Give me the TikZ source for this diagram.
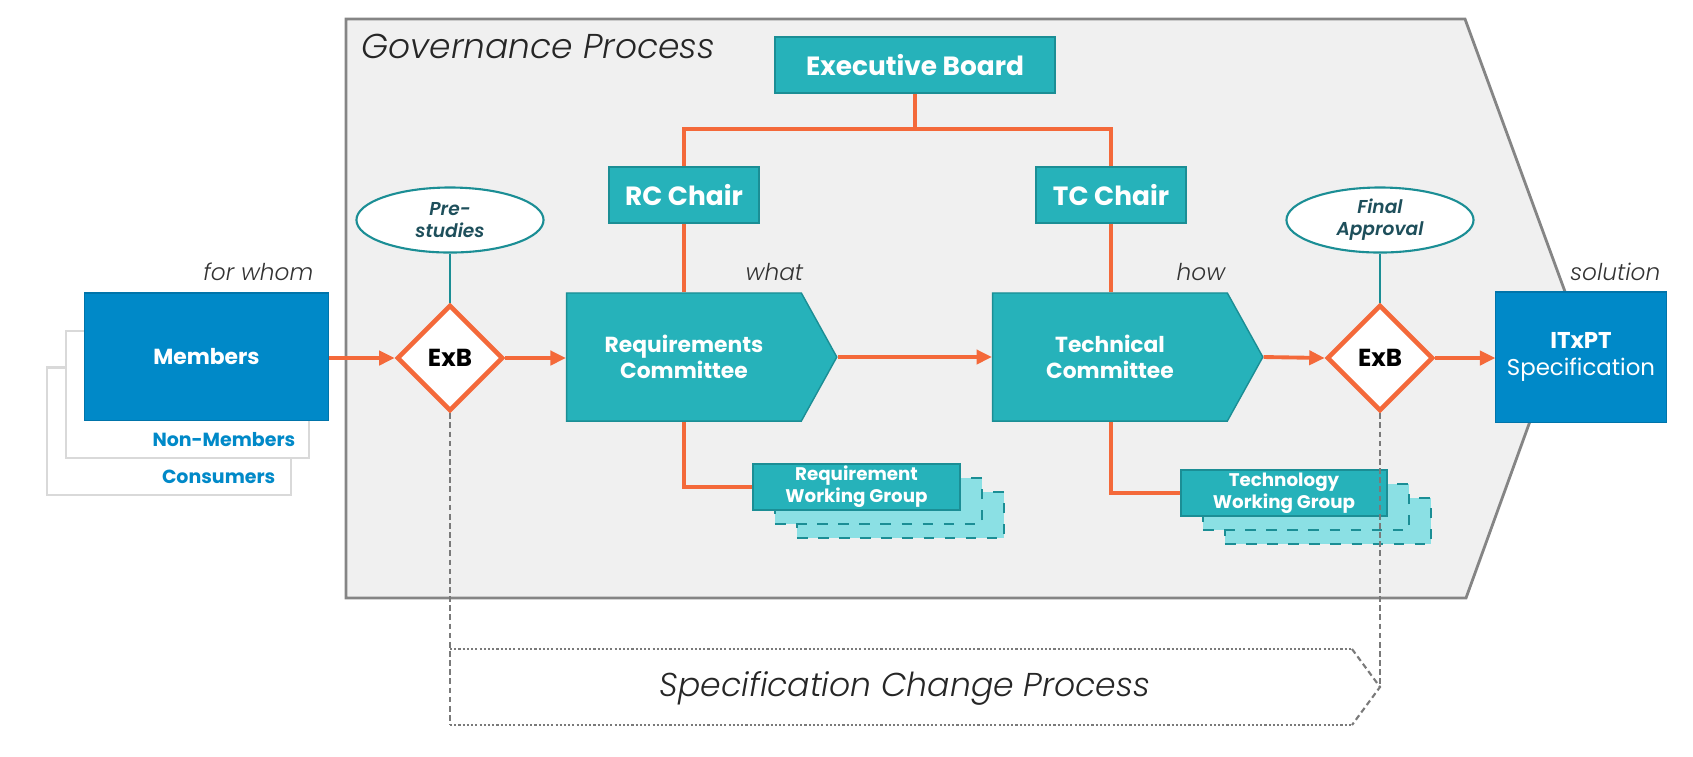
\documentclass[tikz,border=0pt]{standalone}
\usepackage{fontspec}
\setmainfont{Poppins}[ItalicFont={Poppins Light Italic}, BoldItalicFont={Poppins SemiBold Italic}]
\usetikzlibrary{arrows.meta,shapes.geometric,shapes.symbols,shadows}

\definecolor{govfill}{HTML}{F0F0F0}
\definecolor{govline}{HTML}{858585}
\definecolor{teal1}{HTML}{26B2BA}
\definecolor{teal2}{HTML}{1B8E95}
\definecolor{tealtxt}{HTML}{1E4F5B}
\definecolor{wgshade}{HTML}{8BE0E4}
\definecolor{itblue}{HTML}{0089C8}
\definecolor{itorange}{HTML}{F4693A}
\definecolor{dashgray}{HTML}{7A7A7A}

\newcommand{\fs}[2]{\fontsize{#1}{#2}\selectfont}

\tikzset{
  tealbox/.style={rectangle, fill=teal1, draw=teal2, line width=0.4pt, text=white,
    font=\bfseries\fs{7.5}{9}, inner sep=0pt},
  committee/.style={signal, signal to=east, signal pointer angle=122, fill=teal1, draw=teal2,
    line width=0.4pt, text=white, font=\bfseries\fs{6.2}{7.4}, align=center,
    minimum width=2.70cm, minimum height=1.28cm, inner sep=0pt},
  bluebox/.style={rectangle, fill=itblue, draw=itblue!85!black, line width=0.3pt, text=white,
    align=center, inner sep=0pt},
  ghostbox/.style={rectangle, fill=white, draw=black!15, line width=0.6pt,
    minimum width=2.43cm, minimum height=1.27cm},
  exb/.style={diamond, fill=white, draw=itorange, line width=1.3pt, minimum width=1.06cm,
    minimum height=1.06cm, inner sep=0pt, font=\bfseries\fs{7}{8}},
  milestone/.style={ellipse, fill=white, draw=teal2, line width=0.6pt, minimum width=1.87cm,
    minimum height=0.65cm, inner sep=0pt, text=tealtxt, font=\bfseries\itshape\fs{5.3}{6.3},
    align=center},
  wgroup/.style={rectangle, fill=teal1, draw=teal2, line width=0.4pt, text=white,
    font=\bfseries\fs{5.2}{6.2}, align=center, minimum height=0.46cm, inner sep=0pt,
    copy shadow={shadow xshift=0.44cm, shadow yshift=-0.28cm, fill=wgshade, draw=teal2, dashed, line width=0.5pt},
    copy shadow={shadow xshift=0.22cm, shadow yshift=-0.14cm, fill=wgshade, draw=teal2, dashed, line width=0.5pt}},
  flow/.style={itorange, line width=1.1pt},
  feed/.style={flow, -{Triangle[length=4.4pt,width=4pt]}},
  caption/.style={font=\itshape\fs{6.6}{8}, text=black!80, inner sep=0pt},
  spec/.style={dashgray, line width=0.6pt, dash pattern=on 1.6pt off 1pt},
}

\begin{document}
\begin{tikzpicture}[x=0.01cm, y=-0.01cm]
\useasboundingbox (0,0) rectangle (1693,756);

% governance chevron
\draw[govline, fill=govfill, line width=0.8pt]
  (346,19) -- (1465,19) -- (1571,308) -- (1466,598) -- (346,598) -- cycle;
\node[anchor=base west, inner sep=0pt, font=\itshape\fs{9.8}{12}, text=black!85] (govtitle) at (361,58) {Governance Process};

% stakeholders
\node[ghostbox] (consumers) at (169,431) {};
\node[ghostbox] (nonmembers) at (187.5,394.5) {};
\node[anchor=east, inner sep=0pt, text=itblue, font=\bfseries\fs{5.4}{6}] (conslbl) at (276,477) {Consumers};
\node[anchor=east, inner sep=0pt, text=itblue, font=\bfseries\fs{5.4}{6}] (nonlbl) at (296,440) {Non-Members};
\node[bluebox, minimum width=2.43cm, minimum height=1.27cm, font=\bfseries\fs{6.2}{7.4}] (members) at (206.5,356.5) {Members};
\node[caption, anchor=base east] (forwhom) at (314,280) {for whom};

% board and chairs
\node[tealbox, minimum width=2.80cm, minimum height=0.56cm] (eb) at (915,65) {Executive Board};
\node[tealbox, minimum width=1.50cm, minimum height=0.56cm] (rcchair) at (684,195) {RC Chair};
\node[tealbox, minimum width=1.50cm, minimum height=0.56cm] (tcchair) at (1111,195) {TC Chair};
\coordinate (fork) at (915,129);

% committees
\node[committee] (rc) at (684,357) {Requirements\\Committee};
\node[committee] (tc) at (1110,357) {Technical\\Committee};
\node[caption, anchor=base west] (what) at (745,280) {what};
\node[caption, anchor=base west] (how) at (1176,280) {how};

% working groups
\node[wgroup, minimum width=2.07cm] (rwg) at (856.5,487) {Requirement\\Working Group};
\node[wgroup, minimum width=2.06cm] (twg) at (1284,493) {Technology\\Working Group};

% decisions
\node[exb] (exb1) at (450,358) {ExB};
\node[exb] (exb2) at (1380,358) {ExB};
\node[milestone] (prestudy) at (450,220) {Pre-\\studies};
\node[milestone] (approval) at (1380,220) {Final\\Approval};

% result
\node[bluebox, minimum width=1.70cm, minimum height=1.30cm, font=\fs{6.5}{7.8}] (itxpt) at (1581,357) {\textbf{ITxPT}\\Specification};
\node[caption, anchor=base east] (solution) at (1661,280) {solution};

% connectors
\draw[flow] (eb) -- (fork);
\draw[flow] (rcchair) |- (fork) -| (tcchair);
\draw[flow] (rcchair.south) -- (rcchair.south |- rc.north);
\draw[flow] (tcchair.south) -- (tcchair.south |- tc.north);
\draw[flow] (rcchair.south |- rc.south) |- (rwg.west);
\draw[flow] (tcchair.south |- tc.south) |- (twg.west);
\draw[feed] (members.east |- exb1) -- (exb1.west);
\draw[feed] (exb1) -- (exb1 -| rc.west);
\draw[feed] (rc.east) -- (rc.east -| tc.west);
\draw[feed] (tc.east) -- (exb2.west);
\draw[feed] (exb2) -- (exb2 -| itxpt.west);
\draw[teal2, line width=0.6pt] (prestudy) -- (exb1);
\draw[teal2, line width=0.6pt] (approval) -- (exb2);

% specification change process
\node[font=\itshape\fs{9.4}{11}, text=black!85] (scp) at (905,688) {Specification Change Process};
\coordinate (scpsw) at (450,725);
\coordinate (scpnw) at (450,649);
\coordinate (scpne) at (1352,649);
\coordinate (scpse) at (1352,725);
\coordinate (scptip) at (1380,687);
\draw[dashgray, line width=0.6pt, dash pattern=on 0.6pt off 0.6pt] (scpnw) -- (scpne) (scpsw) -- (scpse);
\draw[spec] (scpne) -- (scptip) -- (scpse);
\draw[spec] (exb1.south) -- (scpsw);
\draw[spec] (exb2.south) -- (scptip);
\end{tikzpicture}
\end{document}
